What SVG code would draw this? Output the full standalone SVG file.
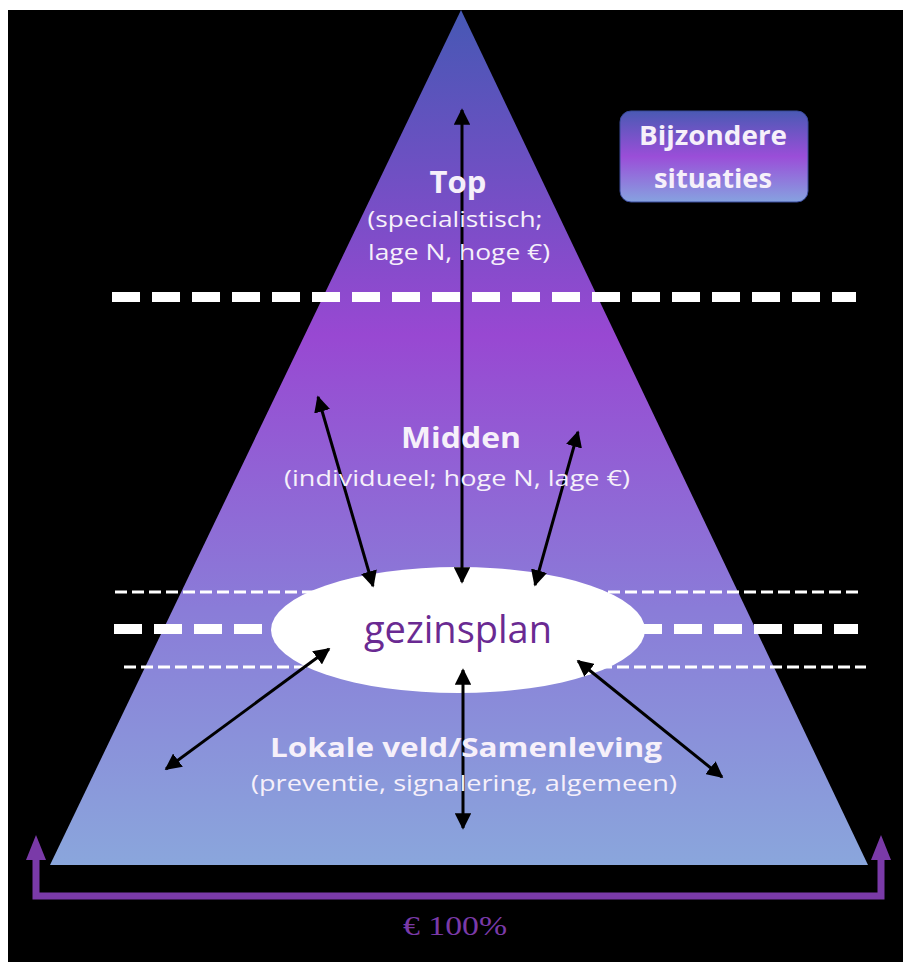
<svg xmlns="http://www.w3.org/2000/svg" width="903" height="962" viewBox="0 0 903 962">
<defs>
<linearGradient id="tri" x1="0" y1="10" x2="0" y2="865" gradientUnits="userSpaceOnUse">
<stop offset="0" stop-color="#4658b4"/>
<stop offset="0.38" stop-color="#9848d2"/>
<stop offset="0.7" stop-color="#8a7cd8"/>
<stop offset="1" stop-color="#8aa6dc"/>
</linearGradient>
<linearGradient id="box" x1="0" y1="0" x2="0" y2="1">
<stop offset="0" stop-color="#4a5ab4"/>
<stop offset="0.5" stop-color="#9a4ed8"/>
<stop offset="1" stop-color="#86a2e0"/>
</linearGradient>
<marker id="ah" viewBox="0 0 10 10" refX="9" refY="5" markerWidth="5.5" markerHeight="5.5" orient="auto-start-reverse" markerUnits="strokeWidth">
<path d="M0,0 L10,5 L0,10 z" fill="#000"/>
</marker>
</defs>
<style>
.lbl{fill:#f6f0fa;font-family:"Open Sans","Liberation Sans",sans-serif;text-anchor:middle}
.b{font-weight:bold}
.dl{stroke:#fff;fill:none}
.ar{stroke:#000;stroke-width:3;fill:none;marker-start:url(#ah);marker-end:url(#ah)}
</style>
<rect x="0" y="0" width="903" height="962" fill="#fff"/>
<rect x="8" y="10" width="895" height="952" fill="#000"/>

<g id="pyramid">
<polygon points="461,10 868,865 50,865" fill="url(#tri)"/>
</g>

<g id="dividers">
<line class="dl" x1="112" y1="297" x2="856" y2="297" stroke-width="10" stroke-dasharray="28 12"/>
<line class="dl" x1="115" y1="592" x2="859" y2="592" stroke-width="3" stroke-dasharray="12 5"/>
<line class="dl" x1="114" y1="629" x2="858" y2="629" stroke-width="10" stroke-dasharray="28 12"/>
<line class="dl" x1="124" y1="667" x2="866" y2="667" stroke-width="3" stroke-dasharray="12 5"/>
</g>

<g id="gezinsplan">
<ellipse cx="458" cy="630" rx="187" ry="63" fill="#fff"/>
<text x="458" y="643" font-family="Open Sans, Liberation Sans, sans-serif" font-size="38" fill="#6a2a92" text-anchor="middle">gezinsplan</text>
</g>

<g id="connectors">
<line class="ar" x1="462" y1="110" x2="462" y2="582"/>
<line class="ar" x1="463" y1="670" x2="463" y2="828"/>
<line class="ar" x1="318" y1="397" x2="373" y2="586"/>
<line class="ar" x1="578" y1="432" x2="535" y2="585"/>
<line class="ar" x1="166" y1="769" x2="329" y2="649"/>
<line class="ar" x1="578" y1="661" x2="722" y2="777"/>
</g>

<g id="top">
<text class="lbl b" x="458" y="193" font-size="31">Top</text>
<text class="lbl" x="455" y="227" font-size="21" textLength="175" lengthAdjust="spacingAndGlyphs">(specialistisch;</text>
<text class="lbl" x="459" y="260" font-size="21" textLength="182" lengthAdjust="spacingAndGlyphs">lage N, hoge €)</text>
</g>

<g id="midden">
<text class="lbl b" x="461" y="448" font-size="29" textLength="120" lengthAdjust="spacingAndGlyphs">Midden</text>
<text class="lbl" x="457" y="486" font-size="21" textLength="346" lengthAdjust="spacingAndGlyphs">(individueel; hoge N, lage €)</text>
</g>

<g id="lokaal">
<text class="lbl b" x="466" y="757" font-size="27" textLength="392" lengthAdjust="spacingAndGlyphs">Lokale veld/Samenleving</text>
<text class="lbl" x="464" y="791" font-size="21" textLength="426" lengthAdjust="spacingAndGlyphs">(preventie, signalering, algemeen)</text>
</g>

<g id="bijzondere">
<rect x="620" y="111" width="188" height="91" rx="11" fill="url(#box)" stroke="#3a4a9a" stroke-width="1"/>
<text class="lbl b" x="713" y="145" font-size="27" textLength="148" lengthAdjust="spacingAndGlyphs">Bijzondere</text>
<text class="lbl b" x="713" y="188" font-size="27" textLength="118" lengthAdjust="spacingAndGlyphs">situaties</text>
</g>

<g id="budget">
<path d="M36,860 L36,896 L881,896 L881,860" fill="none" stroke="#7a3aa8" stroke-width="7"/>
<polygon points="36,835 26,860 46,860" fill="#7a3aa8"/>
<polygon points="881,835 871,860 891,860" fill="#7a3aa8"/>
<text x="455" y="935" font-family="Liberation Serif, serif" font-size="28" fill="#7a3aa8" text-anchor="middle" textLength="104" lengthAdjust="spacingAndGlyphs">€ 100%</text>
</g>
</svg>
